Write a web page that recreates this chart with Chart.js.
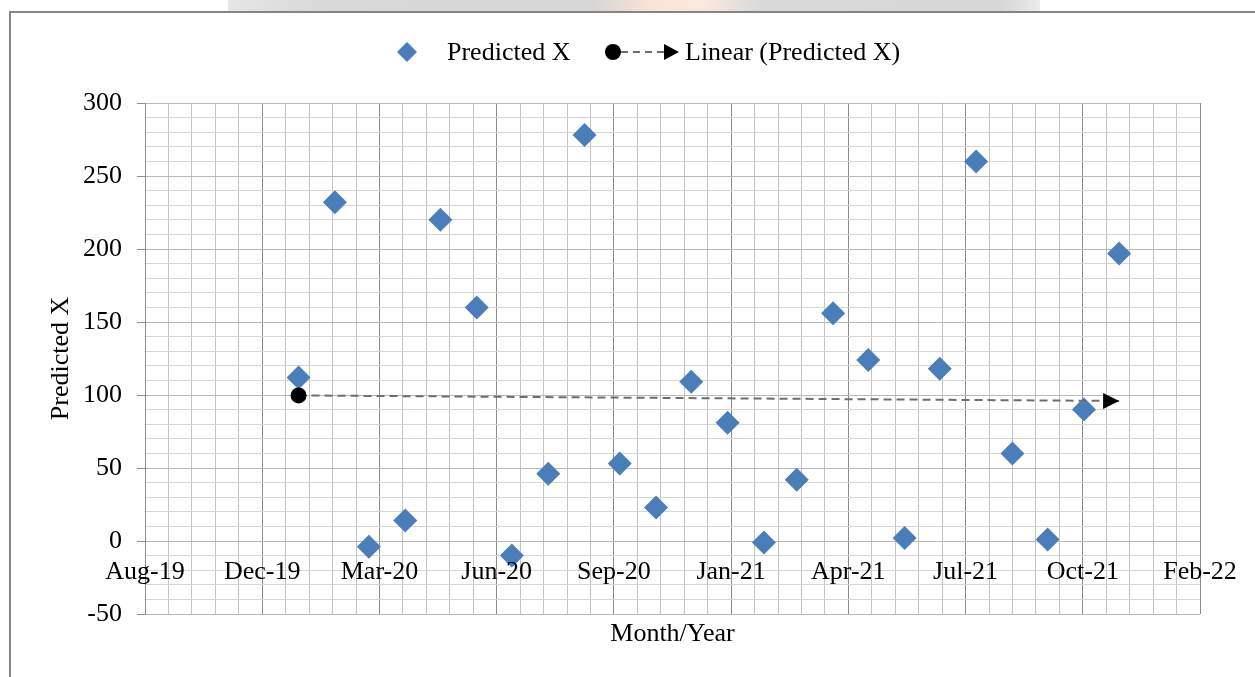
<!DOCTYPE html>
<html>
<head>
<meta charset="utf-8">
<script src="https://cdn.jsdelivr.net/npm/chart.js@4/dist/chart.umd.min.js"></script>
<style>
  html, body { margin: 0; padding: 0; background: #fff; }
  #wrap { position: relative; width: 1255px; height: 677px; overflow: hidden; }
  #mark { position: absolute; left: 228px; top: 0; width: 812px; height: 11px;
          background: linear-gradient(100deg, #e6e6e6 0%, #d8d8d8 12%, #d6d6d6 45%, #f9e3d6 52%, #fbe9de 58%, #d9d9d9 66%, #d6d6d6 95%, #ececec 100%); }
  #frame { position: absolute; left: 9px; top: 11px; width: 1300px; height: 700px;
           border: 2px solid #858585; pointer-events: none; }
  canvas { position: absolute; left: 0; top: 0; }
</style>
</head>
<body>
<div id="wrap">
  <div id="mark"></div>
  <div id="frame"></div>
  <canvas id="MyChart" width="1255" height="677"></canvas>
</div>
<script>
// months of the series (first day of each month)
var months = [
  '2020-01', '2020-02', '2020-03', '2020-04', '2020-05', '2020-06',
  '2020-07', '2020-08', '2020-09', '2020-10', '2020-11', '2020-12',
  '2021-01', '2021-02', '2021-03', '2021-04', '2021-05', '2021-06',
  '2021-07', '2021-08', '2021-09', '2021-10', '2021-11', '2021-12',
];
var predictedX = [
  112, 232, -4, 14, 220, 160, -10, 46, 278, 53, 23, 109,
  81, -1, 42, 156, 124, 2, 118, 260, 60, 1, 90, 197,
];
// linear trendline end values (Jan-20 .. Dec-21)
var trendMonths = ['2020-01', '2021-12'];
var trendValues = [99.7, 95.9];

// axis bounds as Excel date serials
var xMin = 43700;
var xMax = 44600;
var yMin = -50;
var yMax = 300;

var monthNames = ['Jan', 'Feb', 'Mar', 'Apr', 'May', 'Jun', 'Jul', 'Aug', 'Sep', 'Oct', 'Nov', 'Dec'];
var excelEpoch = Date.UTC(1899, 11, 30);

function toSerial(ym) {
  var p = ym.split('-');
  return Math.round((Date.UTC(+p[0], +p[1] - 1, 1) - excelEpoch) / 86400000);
}
function serialLabel(v) {
  var d = new Date(excelEpoch + v * 86400000);
  return monthNames[d.getUTCMonth()] + '-' + String(d.getUTCFullYear()).slice(2);
}

var points = months.map(function (m, i) {
  return { x: toSerial(m), y: predictedX[i] };
});
var trendPoints = trendMonths.map(function (m, i) {
  return { x: toSerial(m), y: trendValues[i] };
});

var serifFont = { family: 'Liberation Serif', size: 26 };

// x labels sit just under the zero line, arrow head on trendline, custom legend
var excelBits = {
  id: 'excelBits',
  afterDraw: function (chart) {
    var ctx = chart.ctx;
    var xs = chart.scales.x;
    var ys = chart.scales.y;
    ctx.save();
    ctx.font = '26px "Liberation Serif"';
    ctx.fillStyle = '#000';
    ctx.textAlign = 'center';
    ctx.textBaseline = 'alphabetic';
    var y0 = ys.getPixelForValue(0);
    for (var v = xMin; v <= xMax; v += 100) {
      ctx.fillText(serialLabel(v), xs.getPixelForValue(v), y0 + 38);
    }

    // legend
    var ly = 52;
    ctx.fillStyle = '#4a7ebb';
    ctx.beginPath();
    ctx.moveTo(407, ly - 10);
    ctx.lineTo(417, ly);
    ctx.lineTo(407, ly + 10);
    ctx.lineTo(397, ly);
    ctx.closePath();
    ctx.fill();
    ctx.fillStyle = '#000';
    ctx.textAlign = 'left';
    ctx.fillText('Predicted X', 447, 60);

    ctx.beginPath();
    ctx.arc(613, ly, 8, 0, Math.PI * 2);
    ctx.fill();
    ctx.strokeStyle = '#6e6e6e';
    ctx.lineWidth = 2;
    ctx.setLineDash([7, 5]);
    ctx.beginPath();
    ctx.moveTo(621, ly);
    ctx.lineTo(666, ly);
    ctx.stroke();
    ctx.setLineDash([]);
    ctx.beginPath();
    ctx.moveTo(664, ly - 8);
    ctx.lineTo(679, ly);
    ctx.lineTo(664, ly + 8);
    ctx.closePath();
    ctx.fill();
    ctx.fillText('Linear (Predicted X)', 685, 60);
    ctx.restore();
  },
  afterDatasetsDraw: function (chart) {
    var meta = chart.getDatasetMeta(1);
    var n = meta.data.length;
    var a = meta.data[n - 2];
    var b = meta.data[n - 1];
    var ang = Math.atan2(b.y - a.y, b.x - a.x);
    var ctx = chart.ctx;
    ctx.save();
    ctx.translate(b.x, b.y);
    ctx.rotate(ang);
    ctx.fillStyle = '#000';
    ctx.beginPath();
    ctx.moveTo(0, 0);
    ctx.lineTo(-16, -8);
    ctx.lineTo(-16, 8);
    ctx.closePath();
    ctx.fill();
    ctx.restore();
  },
};

var ctx = document.getElementById('MyChart').getContext('2d');
var chart = new Chart(ctx, {
  type: 'scatter',
  data: {
    datasets: [
      {
        label: 'Predicted X',
        data: points,
        order: 1,
        pointStyle: 'rectRot',
        pointRadius: 12,
        pointHoverRadius: 12,
        backgroundColor: '#4a7ebb',
        borderColor: '#4a7ebb',
        borderWidth: 0,
      },
      {
        label: 'Linear (Predicted X)',
        type: 'line',
        data: trendPoints,
        order: 0,
        borderColor: '#6e6e6e',
        borderWidth: 2,
        borderDash: [8, 5],
        pointRadius: [8, 0],
        pointBackgroundColor: '#000',
        pointBorderColor: '#000',
        pointBorderWidth: 0,
        fill: false,
      },
    ],
  },
  options: {
    responsive: false,
    animation: false,
    layout: {
      padding: { top: 103, right: 55, bottom: 0, left: 0 },
    },
    scales: {
      x: {
        type: 'linear',
        min: xMin,
        max: xMax,
        afterFit: function (scale) {
          scale.height = 63;
        },
        ticks: {
          display: false,
          stepSize: 20,
          maxTicksLimit: 100,
        },
        grid: {
          drawTicks: false,
          color: function (c) {
            return (c.tick.value - xMin) % 100 === 0 ? '#8c8c8c' : '#c4c4c4';
          },
        },
        border: { display: false },
        title: {
          display: true,
          text: 'Month/Year',
          color: '#000',
          font: serifFont,
          padding: { top: 0, bottom: 27 },
        },
      },
      y: {
        min: yMin,
        max: yMax,
        afterFit: function (scale) {
          scale.width = 145;
        },
        ticks: {
          stepSize: 10,
          maxTicksLimit: 100,
          autoSkip: false,
          padding: 15,
          color: '#000',
          font: serifFont,
          callback: function (v) {
            return v % 50 === 0 ? v : '';
          },
        },
        grid: {
          tickLength: 8,
          color: function (c) {
            return c.tick.value % 50 === 0 ? '#b8b8b8' : '#d6d6d6';
          },
          tickColor: function (c) {
            return c.tick.value % 50 === 0 ? '#8c8c8c' : 'rgba(0,0,0,0)';
          },
        },
        border: { color: '#8c8c8c' },
        title: {
          display: true,
          text: 'Predicted X',
          color: '#000',
          font: serifFont,
          padding: { top: 46, bottom: 0 },
        },
      },
    },
    plugins: {
      legend: { display: false },
      tooltip: { enabled: false },
    },
  },
  plugins: [excelBits],
});
</script>
</body>
</html>
